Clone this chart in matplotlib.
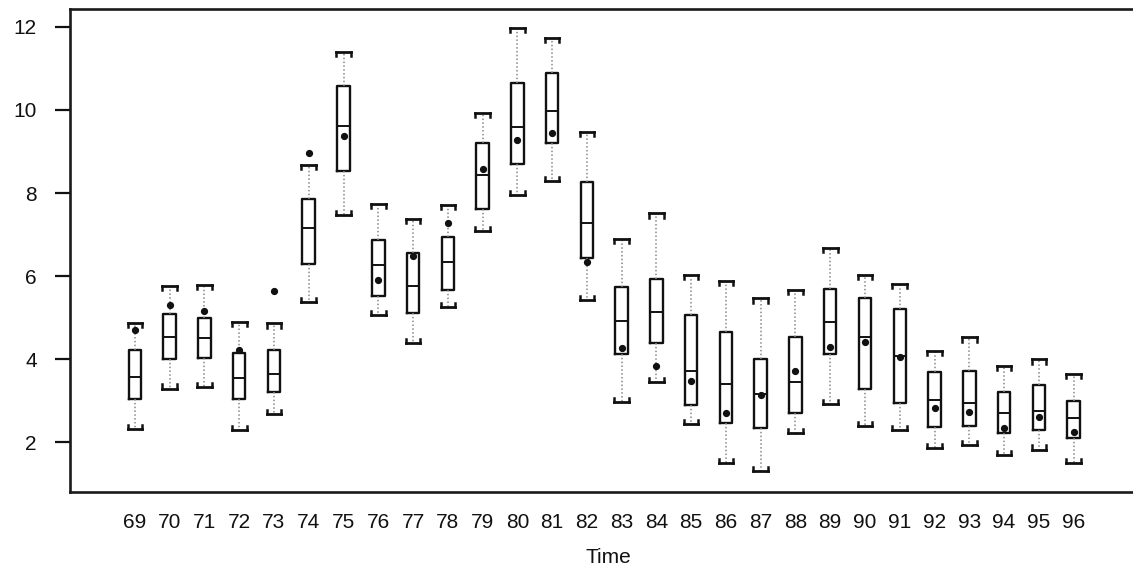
import matplotlib
matplotlib.use("Agg")
import matplotlib.pyplot as plt

plt.rcParams["font.family"] = ["Liberation Sans", "DejaVu Sans"]

# -----------------------------
# Data (years 69..96)
years = list(range(69, 97))
whis_hi = [4.87, 5.76, 5.78, 4.90, 4.86, 8.67, 11.40, 7.73, 7.37, 7.71, 9.92, 11.98, 11.73, 9.48,
           6.89, 7.51, 6.02, 5.88, 5.46, 5.66, 6.67, 6.02, 5.81, 4.20, 4.52, 3.84, 3.99, 3.64]
q3 = [4.22, 5.08, 4.99, 4.14, 4.23, 7.85, 10.58, 6.88, 6.55, 6.93, 9.20, 10.66, 10.88, 8.27,
      5.73, 5.92, 5.06, 4.66, 3.99, 4.54, 5.69, 5.46, 5.20, 3.68, 3.71, 3.20, 3.37, 2.99]
medians = [3.57, 4.52, 4.50, 3.55, 3.65, 7.16, 9.61, 6.27, 5.76, 6.33, 8.43, 9.59, 9.98, 7.27,
           4.92, 5.14, 3.72, 3.39, 3.17, 3.45, 4.90, 4.54, 4.08, 3.01, 2.95, 2.69, 2.75, 2.57]
q1 = [3.04, 3.99, 4.02, 3.05, 3.21, 6.29, 8.53, 5.53, 5.12, 5.66, 7.61, 8.69, 9.20, 6.43,
      4.12, 4.38, 2.89, 2.47, 2.35, 2.69, 4.12, 3.29, 2.95, 2.37, 2.39, 2.23, 2.29, 2.11]
whis_lo = [2.31, 3.29, 3.33, 2.29, 2.67, 5.38, 7.47, 5.06, 4.38, 5.26, 7.09, 7.95, 8.29, 5.42,
           2.97, 3.45, 2.43, 1.50, 1.31, 2.21, 2.92, 2.39, 2.29, 1.85, 1.93, 1.69, 1.82, 1.49]
# observed values (dots)
observed = [4.70, 5.30, 5.16, 4.23, 5.65, 8.97, 9.38, 5.90, 6.48, 7.28, 8.58, 9.28, 9.44, 6.33,
            4.27, 3.83, 3.48, 2.69, 3.13, 3.72, 4.30, 4.42, 4.04, 2.83, 2.72, 2.35, 2.60, 2.25]

# -----------------------------
fig = plt.figure(figsize=(11.33, 5.7), dpi=100)
ax = fig.add_axes([0.062, 0.137, 0.95, 0.847])

stats = []
for i in range(len(years)):
    stats.append({"med": medians[i], "q1": q1[i], "q3": q3[i],
                  "whislo": whis_lo[i], "whishi": whis_hi[i], "fliers": []})

ax.bxp(stats, positions=years, widths=0.36, showfliers=False,
       boxprops=dict(color="#111111", linewidth=1.7),
       medianprops=dict(color="#111111", linewidth=1.4),
       whiskerprops=dict(color="#888888", linewidth=1.1, linestyle=(0, (1, 1.5))),
       capprops=dict(color="#111111", linewidth=2.0),
       capwidths=0.42)

# small bracket ends on the caps
cw = 0.21
d = 0.1
for x, hi, lo in zip(years, whis_hi, whis_lo):
    for xe in (x - cw, x + cw):
        ax.plot([xe, xe], [hi, hi - d], color="#111111", linewidth=1.8)
        ax.plot([xe, xe], [lo, lo + d], color="#111111", linewidth=1.8)

ax.plot(years, observed, linestyle="none", marker="o", markersize=4.2,
        color="#111111")

ax.set_xlim(67.14, 98.1)
ax.set_ylim(0.8, 12.43)
ax.set_yticks([2, 4, 6, 8, 10, 12])
ax.set_xticks(years)
ax.set_xticklabels([str(y) for y in years])
ax.tick_params(axis="x", length=0, pad=15, labelsize=15, colors="#111111")
ax.tick_params(axis="y", length=11, width=1.6, pad=13, labelsize=15, colors="#111111")
ax.set_xlabel("Time", fontsize=15, labelpad=12, color="#111111")

ax.spines["right"].set_visible(False)
for s in ("left", "bottom", "top"):
    ax.spines[s].set_linewidth(1.9)
    ax.spines[s].set_color("#1a1a1a")

plt.savefig("out.png", dpi=100)
